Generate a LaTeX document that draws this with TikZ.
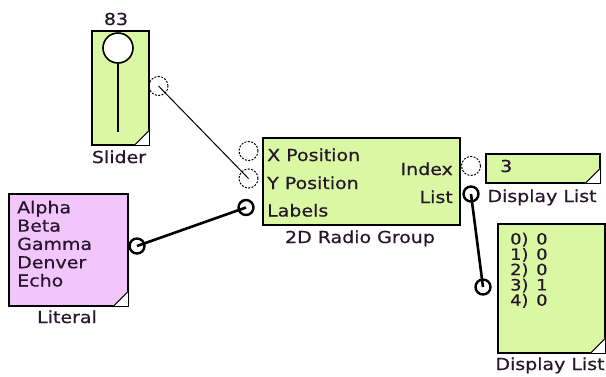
\documentclass[tikz,border=0pt]{standalone}
\usepackage{fontspec}
\setmainfont{DejaVu Sans}[FakeStretch=1.15, FakeBold=0.6]
\usepackage{xcolor}
\usepackage{tikz}
\usetikzlibrary{positioning}

\definecolor{blockgreen}{RGB}{218,248,164}
\definecolor{literalpink}{RGB}{242,198,250}
\definecolor{labeltext}{RGB}{38,22,44}

% white corner mark in the lower right of a block
\newcommand{\cornermark}[1]{%
  \fill[white] ([xshift=-16pt,yshift=0.9pt]#1.south east) -- ([xshift=-0.9pt,yshift=0.9pt]#1.south east) -- ([xshift=-0.9pt,yshift=16pt]#1.south east) -- cycle;
  \draw[line width=1pt] ([xshift=-16pt]#1.south east) -- ([yshift=16pt]#1.south east);}

\begin{document}
\begin{tikzpicture}[
  x=1pt, y=-1pt,
  block/.style={draw=black, line width=1.8pt, fill=blockgreen, inner sep=0, anchor=north west},
  txt/.style={inner sep=0, text=labeltext, font=\fontsize{16.5}{18}\selectfont},
  smalltxt/.style={inner sep=0, text=labeltext, font=\fontsize{15.5}{16}\selectfont},
  port/.style={circle, draw, dash pattern=on 2pt off 1.4pt, line width=1pt, minimum size=19pt, inner sep=0},
  linkport/.style={circle, draw, line width=2.4pt, minimum size=15pt, inner sep=0},
  wire/.style={line width=1pt},
  thickwire/.style={line width=2.6pt}
]
  \useasboundingbox (0,0) rectangle (606,376);

  % Slider
  \node[block, minimum width=57pt, minimum height=114pt] (slider) at (91,30) {};
  \cornermark{slider}
  \node[circle, draw, fill=white, line width=1.6pt, minimum size=30pt, inner sep=0] (knob) at (118,48) {};
  \coordinate (knobend) at (118,132);
  \draw[line width=1.6pt] (knob.south) -- (knobend);
  \node[txt, anchor=base] (sliderval) at (116,25) {83};
  \node[txt, anchor=base] (sliderlbl) at (119,163) {Slider};
  \node[port] (sliderout) at (158.5,86) {};

  % 2D Radio Group
  \node[block, minimum width=197pt, minimum height=87pt] (radio) at (262,137) {};
  \node[txt, anchor=base west] (xposlbl) at (267,161) {X Position};
  \node[txt, anchor=base west] (yposlbl) at (267,189) {Y Position};
  \node[txt, anchor=base west] (labelslbl) at (267,216.5) {Labels};
  \node[txt, anchor=base east] (indexlbl) at (453,175) {Index};
  \node[txt, anchor=base east] (listlbl) at (453,203) {List};
  \node[txt, anchor=base] (radiolbl) at (360,243) {2D Radio Group};
  \node[port] (xposin) at (248.5,151) {};
  \node[port] (yposin) at (248.5,178.5) {};
  \node[linkport] (labelsin) at (246,207.5) {};
  \node[port] (indexout) at (471,166) {};
  \node[linkport] (listout) at (471,194) {};

  % Literal
  \node[block, fill=literalpink, minimum width=119pt, minimum height=112pt] (literal) at (8,193) {};
  \cornermark{literal}
  \foreach \w [count=\i from 0] in {Alpha,Beta,Gamma,Denver,Echo}
    \node[txt, anchor=base west] (lit\i) at (17,213.3+18.3*\i) {\w};
  \node[txt, anchor=base] (literallbl) at (67,323) {Literal};
  \node[linkport] (literalout) at (137,246) {};

  % Display List (index)
  \node[block, minimum width=114pt, minimum height=29pt] (dlindex) at (485,153) {};
  \cornermark{dlindex}
  \node[txt, anchor=base west] (dlindexval) at (500,172) {3};
  \node[txt, anchor=base] (dlindexlbl) at (542,202) {Display List};

  % Display List (list)
  \node[block, minimum width=107pt, minimum height=129pt] (dllist) at (497,223) {};
  \cornermark{dllist}
  \foreach \v [count=\i from 0] in {0,0,0,1,0} {
    \node[smalltxt, anchor=base west] (idx\i) at (510,244.5+15.3*\i) {\i)};
    \node[smalltxt, anchor=base west] (val\i) at (536,244.5+15.3*\i) {\v};
  }
  \node[txt, anchor=base] (dllistlbl) at (550,370) {Display List};
  \node[linkport] (dllistin) at (483,287) {};

  % Wires
  \draw[wire] (sliderout.center) -- (yposin.center);
  \draw[thickwire] (literalout.center) -- (labelsin.center);
  \draw[thickwire] (listout.center) -- (dllistin.center);
\end{tikzpicture}
\end{document}
